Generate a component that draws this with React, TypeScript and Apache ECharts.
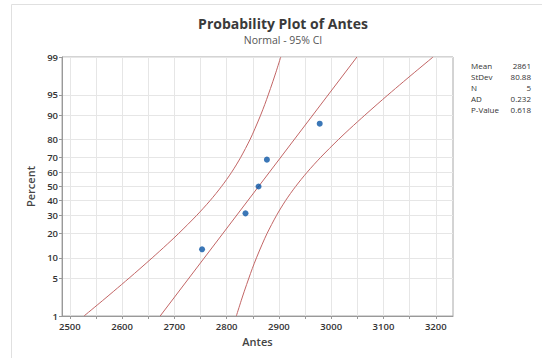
import React, { useEffect, useRef } from "react";
import * as echarts from "echarts";

// ---- data ----
const antesValues = [2753, 2836, 2861, 2877, 2978];
const antesPercents = [12.96, 31.48, 50, 68.52, 87.04];

const bandPercents = [1, 2, 3, 5, 7, 10, 15, 20, 30, 40, 50, 60, 70, 80, 85, 90, 93, 95, 97, 98, 99];
const lowerBand = [2527.1, 2562.1, 2584.0, 2613.5, 2634.2, 2657.6, 2686.4, 2708.4, 2742.1, 2768.3, 2790.1, 2809.3, 2826.9, 2844.6, 2854.0, 2865.0, 2873.0, 2879.5, 2888.2, 2894.3, 2903.5];
const upperBand = [2818.5, 2827.7, 2833.8, 2842.5, 2849.0, 2857.0, 2868.0, 2877.4, 2895.1, 2912.7, 2931.9, 2953.7, 2979.9, 3013.6, 3035.6, 3064.4, 3087.8, 3108.5, 3138.0, 3159.9, 3194.9];
const fitPercents = [1, 99];
const fitValues = [2672.8, 3049.2];

const yTickPercents = [1, 5, 10, 20, 30, 40, 50, 60, 70, 80, 90, 95, 99];
const xTickValues = [2500, 2550, 2600, 2650, 2700, 2750, 2800, 2850, 2900, 2950, 3000, 3050, 3100, 3150, 3200];
const xLabelValues = [2500, 2600, 2700, 2800, 2900, 3000, 3100, 3200];

const statLabels = ["Mean", "StDev", "N", "AD", "P-Value"];
const statValues = ["2861", "80.88", "5", "0.232", "0.618"];

// inverse standard normal CDF (probability-scale axis transform)
function probit(p: number): number {
  const a = [-39.69683028665376, 220.9460984245205, -275.9285104469687, 138.357751867269, -30.66479806614716, 2.506628277459239];
  const b = [-54.47609879822406, 161.5858368580409, -155.6989798598866, 66.80131188771972, -13.28068155211027];
  const c = [-0.007784894002430293, -0.3223964580411365, -2.400758277161838, -2.549732539343734, 4.374664141464968, 2.938163982698783];
  const d = [0.007784695709041462, 0.3224671290700398, 2.445134137142996, 3.754408661907416];
  const pl = 0.02425;
  let q: number, r: number;
  if (p < pl) {
    q = Math.sqrt(-2 * Math.log(p));
    return (((((c[0] * q + c[1]) * q + c[2]) * q + c[3]) * q + c[4]) * q + c[5]) / ((((d[0] * q + d[1]) * q + d[2]) * q + d[3]) * q + 1);
  }
  if (p > 1 - pl) {
    q = Math.sqrt(-2 * Math.log(1 - p));
    return -(((((c[0] * q + c[1]) * q + c[2]) * q + c[3]) * q + c[4]) * q + c[5]) / ((((d[0] * q + d[1]) * q + d[2]) * q + d[3]) * q + 1);
  }
  q = p - 0.5;
  r = q * q;
  return ((((((a[0] * r + a[1]) * r + a[2]) * r + a[3]) * r + a[4]) * r + a[5]) * q) / (((((b[0] * r + b[1]) * r + b[2]) * r + b[3]) * r + b[4]) * r + 1);
}
const pz = (pct: number) => probit(pct / 100);

const FONT = "Open Sans";

export default function App() {
  const ref = useRef<HTMLDivElement>(null);
  useEffect(() => {
    if (!ref.current) return;
    const chart = echarts.init(ref.current, undefined, { renderer: "svg" });
    const yTickZ = yTickPercents.map(pz);
    const zMin = pz(1);
    const zMax = pz(99);
    const labelFor = (v: number) => {
      let best = 0;
      let bd = Infinity;
      yTickZ.forEach((z, i) => {
        const dd = Math.abs(z - v);
        if (dd < bd) { bd = dd; best = i; }
      });
      return String(yTickPercents[best]);
    };
    const lineColor = "#c26565";
    const option: any = {
      animation: false,
      textStyle: { fontFamily: FONT },
      title: [
        {
          text: "Probability Plot of Antes",
          left: 278,
          top: 11,
          textAlign: "center",
          textStyle: { fontFamily: FONT, fontSize: 14, fontWeight: "bold", color: "#3a3a3a" },
        },
        {
          text: "Normal - 95% CI",
          left: 278,
          top: 29,
          textAlign: "center",
          textStyle: { fontFamily: FONT, fontSize: 10.5, fontWeight: "normal", color: "#555" },
        },
      ],
      grid: {
        left: 62, right: 89, top: 57, bottom: 42,
        show: true, borderColor: "#a8a8a8", borderWidth: 1, backgroundColor: "transparent",
      },
      xAxis: {
        type: "value",
        min: 2485,
        max: 3233,
        name: "Antes",
        nameLocation: "middle",
        nameGap: 20,
        nameTextStyle: { fontFamily: FONT, fontSize: 11, color: "#444", fontWeight: 600 },
        axisLine: { show: true, onZero: false, lineStyle: { color: "#999" } },
        axisTick: { show: true, length: 3, lineStyle: { color: "#999" }, customValues: xTickValues },
        axisLabel: { customValues: xLabelValues, formatter: (v: number) => String(v), fontFamily: FONT, fontSize: 9.5, color: "#333", margin: 5, fontWeight: 600 },
        splitLine: { show: true, lineStyle: { color: "#e6e6e6", width: 1 } },
      },
      yAxis: {
        type: "value",
        min: zMin,
        max: zMax,
        name: "Percent",
        nameLocation: "middle",
        nameGap: 20,
        nameTextStyle: { fontFamily: FONT, fontSize: 11, color: "#444", fontWeight: 600 },
        axisLine: { show: true, onZero: false, lineStyle: { color: "#999" } },
        axisTick: { show: true, length: 3, lineStyle: { color: "#999" }, customValues: yTickZ },
        axisLabel: { customValues: yTickZ, formatter: (v: number) => labelFor(v), fontFamily: FONT, fontSize: 9.5, color: "#333", margin: 4, fontWeight: 600 },
        splitLine: { show: true, lineStyle: { color: "#e6e6e6", width: 1 } },
      },
      series: [
        {
          type: "line",
          data: bandPercents.map((p, i) => [lowerBand[i], pz(p)]),
          showSymbol: false, smooth: 0.3,
          lineStyle: { color: lineColor, width: 1 },
          silent: true,
        },
        {
          type: "line",
          data: bandPercents.map((p, i) => [upperBand[i], pz(p)]),
          showSymbol: false, smooth: 0.3,
          lineStyle: { color: lineColor, width: 1 },
          silent: true,
        },
        {
          type: "line",
          data: fitPercents.map((p, i) => [fitValues[i], pz(p)]),
          showSymbol: false,
          lineStyle: { color: lineColor, width: 1 },
          silent: true,
        },
        {
          type: "scatter",
          data: antesPercents.map((p, i) => [antesValues[i], pz(p)]),
          symbolSize: 6,
          itemStyle: { color: "#0a55a5" },
          z: 5,
        },
      ],
      graphic: [
        {
          type: "rect",
          shape: { x: 11.5, y: 4.5, width: 560, height: 380 },
          style: { fill: "none", stroke: "#e0e0e0", lineWidth: 1 },
          silent: true,
        },
        ...statLabels.map((s, i) => ({
          type: "text",
          x: 471,
          y: 65 + i * 11.2,
          style: { text: s, fontFamily: FONT, fontSize: 8, fill: "#333", textAlign: "left", textVerticalAlign: "middle" },
        })),
        ...statValues.map((s, i) => ({
          type: "text",
          x: 531,
          y: 65 + i * 11.2,
          style: { text: s, fontFamily: FONT, fontSize: 8, fill: "#333", textAlign: "right", textVerticalAlign: "middle" },
        })),
      ],
    };
    chart.setOption(option);
    return () => chart.dispose();
  }, []);
  return <div ref={ref} style={{ position: "fixed", left: 0, top: 0, width: 542, height: 358, background: "#fff" }} />;
}
